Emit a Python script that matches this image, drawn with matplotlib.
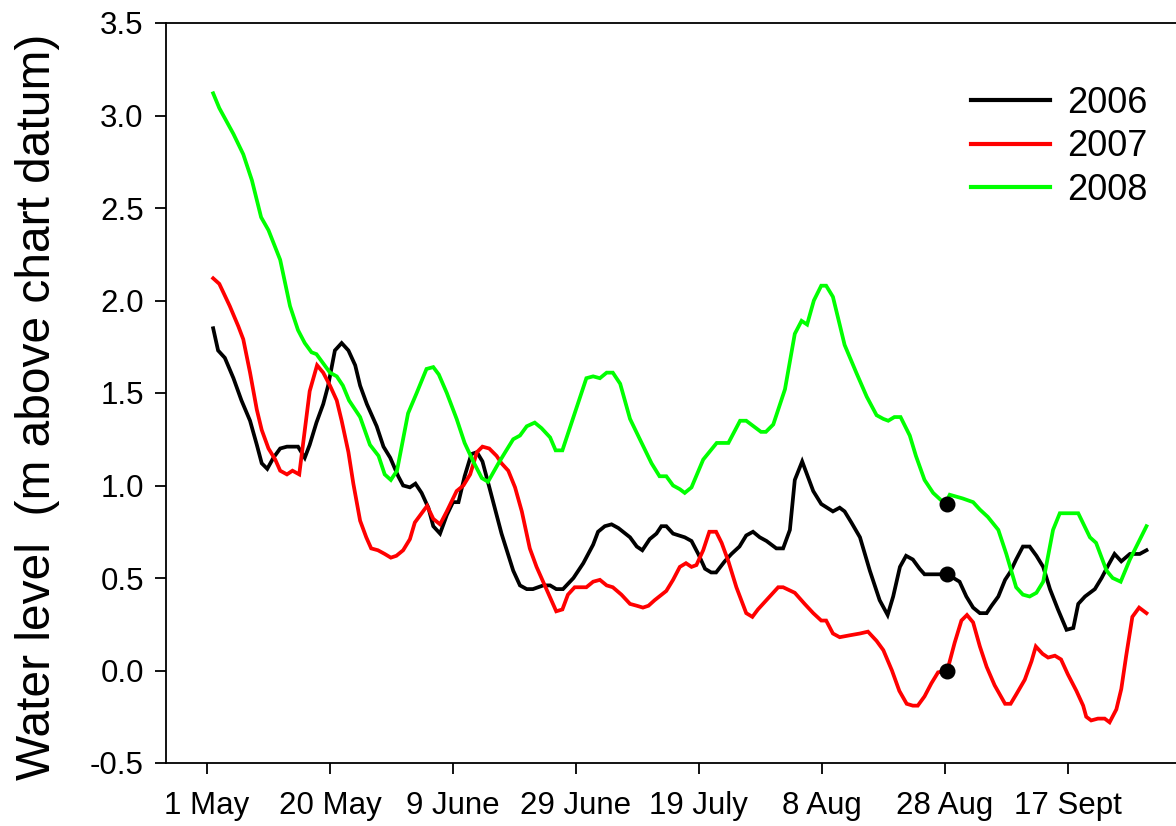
import matplotlib
matplotlib.use("Agg")
import matplotlib.pyplot as plt

# ---------------- data (day 0 = 1 May) ----------------
days_2006 = [1.0, 1.8, 2.9, 4.3, 5.6, 7.0, 8.1, 8.9, 9.8, 10.8, 11.9, 13.0, 14.8, 15.9, 16.7,
             17.8, 18.9, 19.7, 20.8, 21.9, 23.0, 24.1, 24.9, 26.0, 27.6, 28.7, 29.8, 31.1,
             31.9, 33.0, 33.9, 34.9, 36.0, 36.8, 37.9, 39.0, 40.0, 40.9, 41.9, 43.0, 43.9,
             44.8, 46.0, 47.9, 49.8, 50.9, 52.0, 53.0, 54.7, 55.8, 56.8, 57.9, 59.6, 61.2,
             62.8, 63.6, 64.7, 65.8, 66.9, 68.8, 69.9, 70.8, 72.0, 73.1, 73.9, 74.7, 75.8,
             77.7, 78.8, 79.9, 81.0, 82.0, 82.8, 84.2, 85.3, 86.6, 87.7, 88.8, 89.9, 91.0,
             92.6, 93.7, 94.8, 95.6, 96.8, 97.7, 98.6, 99.9, 101.8, 102.9, 103.7, 104.8,
             106.2, 107.8, 109.4, 110.7, 111.6, 112.7, 113.7, 114.8, 115.9, 116.7, 118.6,
             120.4, 122.4, 123.5, 124.6, 125.7, 126.8, 127.6, 128.7, 129.8, 130.6, 131.6,
             132.7, 133.8, 134.9, 136.0, 137.1, 138.4, 139.8, 140.9, 141.7, 142.8, 144.4,
             145.5, 146.6, 147.6, 148.7, 150.1, 151.7, 152.8]
level_2006 = [1.85, 1.73, 1.69, 1.58, 1.46, 1.35, 1.22, 1.12, 1.09, 1.15, 1.20, 1.21, 1.21, 1.15,
              1.22, 1.34, 1.44, 1.54, 1.73, 1.77, 1.73, 1.65, 1.54, 1.44, 1.32, 1.21, 1.15,
              1.05, 1.00, 0.99, 1.01, 0.96, 0.88, 0.78, 0.74, 0.84, 0.91, 0.91, 1.05, 1.17,
              1.18, 1.13, 0.98, 0.74, 0.54, 0.46, 0.44, 0.44, 0.46, 0.46, 0.44, 0.44, 0.50,
              0.58, 0.68, 0.75, 0.78, 0.79, 0.77, 0.72, 0.67, 0.65, 0.71, 0.74, 0.78, 0.78,
              0.74, 0.72, 0.70, 0.63, 0.55, 0.53, 0.53, 0.59, 0.63, 0.67, 0.73, 0.75, 0.72,
              0.70, 0.66, 0.66, 0.76, 1.03, 1.13, 1.05, 0.97, 0.90, 0.86, 0.88, 0.86, 0.80,
              0.72, 0.54, 0.38, 0.30, 0.40, 0.56, 0.62, 0.60, 0.55, 0.52, 0.52, 0.52, 0.48,
              0.40, 0.34, 0.31, 0.31, 0.35, 0.40, 0.49, 0.53, 0.60, 0.67, 0.67, 0.62, 0.56,
              0.44, 0.33, 0.22, 0.23, 0.36, 0.40, 0.44, 0.50, 0.57, 0.63, 0.59, 0.63, 0.63,
              0.65]

days_2007 = [1.0, 2.0, 3.7, 5.1, 5.9, 7.0, 8.1, 8.9, 10.0, 11.1, 11.9, 13.0, 13.9, 15.0, 15.9,
             16.7, 17.9, 18.9, 20.0, 21.1, 21.9, 23.0, 23.8, 24.9, 25.9, 26.7, 27.8, 28.9,
             29.9, 30.8, 31.9, 33.0, 33.8, 34.9, 35.8, 36.8, 37.9, 39.0, 40.6, 41.7, 42.8,
             43.9, 44.8, 45.9, 47.1, 47.9, 49.0, 50.1, 51.2, 52.5, 53.6, 55.2, 56.8, 57.8,
             58.7, 59.8, 61.7, 62.8, 63.9, 65.0, 66.0, 67.4, 68.8, 69.9, 70.9, 71.8, 72.8,
             74.7, 75.8, 76.9, 77.9, 78.8, 79.6, 80.7, 81.7, 82.8, 83.7, 84.8, 86.1, 87.7,
             88.7, 89.6, 90.7, 91.8, 92.9, 93.7, 95.6, 97.2, 98.6, 99.9, 100.7, 101.8, 102.9,
             104.5, 106.2, 107.5, 108.9, 110.0, 111.4, 112.6, 113.8, 114.8, 115.6, 116.7,
             117.8, 118.9, 120.4, 121.6, 122.7, 123.6, 124.6, 125.7, 126.8, 128.1, 129.8,
             130.7, 131.6, 133.0, 134.1, 134.8, 135.9, 136.8, 137.9, 138.9, 140.0, 141.4,
             142.5, 143.0, 143.8, 144.9, 146.0, 146.8, 147.9, 148.7, 149.5, 150.5, 151.6,
             152.8]
level_2007 = [2.12, 2.09, 1.97, 1.86, 1.79, 1.61, 1.41, 1.30, 1.20, 1.14, 1.08, 1.06, 1.08, 1.06,
              1.30, 1.51, 1.65, 1.61, 1.54, 1.46, 1.35, 1.18, 1.01, 0.81, 0.72, 0.66, 0.65,
              0.63, 0.61, 0.62, 0.65, 0.71, 0.80, 0.85, 0.89, 0.82, 0.79, 0.86, 0.97, 1.00,
              1.06, 1.18, 1.21, 1.20, 1.16, 1.12, 1.08, 0.99, 0.86, 0.66, 0.56, 0.44, 0.32,
              0.33, 0.41, 0.45, 0.45, 0.48, 0.49, 0.46, 0.45, 0.41, 0.36, 0.35, 0.34, 0.35,
              0.38, 0.43, 0.49, 0.56, 0.58, 0.56, 0.57, 0.65, 0.75, 0.75, 0.69, 0.59, 0.45,
              0.31, 0.29, 0.33, 0.37, 0.41, 0.45, 0.45, 0.42, 0.36, 0.31, 0.27, 0.27, 0.20,
              0.18, 0.19, 0.20, 0.21, 0.16, 0.11, 0.00, -0.11, -0.18, -0.19, -0.19, -0.14,
              -0.07, -0.01, 0.00, 0.15, 0.27, 0.30, 0.26, 0.13, 0.02, -0.08, -0.18, -0.18,
              -0.13, -0.05, 0.05, 0.13, 0.09, 0.07, 0.08, 0.06, -0.02, -0.11, -0.19, -0.25,
              -0.27, -0.26, -0.26, -0.28, -0.21, -0.10, 0.08, 0.29, 0.34, 0.31]

days_2008 = [1.0, 2.0, 4.3, 5.9, 7.3, 8.8, 10.0, 11.9, 13.5, 14.8, 15.9, 17.0, 17.8, 18.9, 20.0,
             21.1, 22.1, 23.1, 24.9, 26.5, 27.9, 28.9, 29.9, 30.9, 32.7, 34.1, 35.7, 36.8,
             37.7, 39.0, 40.6, 41.9, 43.3, 44.7, 45.7, 47.4, 48.5, 49.8, 50.9, 52.0, 53.3,
             54.4, 55.8, 56.7, 57.8, 59.6, 61.7, 62.8, 63.9, 65.0, 66.0, 67.2, 68.8, 70.4,
             72.3, 73.6, 74.7, 75.8, 76.9, 77.7, 78.8, 80.7, 82.9, 84.8, 86.7, 87.7, 90.1,
             90.9, 92.1, 94.0, 95.6, 96.7, 97.6, 98.7, 99.9, 100.7, 101.8, 102.9, 103.7,
             105.6, 107.3, 108.9, 110.0, 110.8, 111.8, 112.8, 114.3, 115.3, 116.7, 118.1,
             119.4, 120.2, 120.8, 122.9, 124.6, 125.7, 127.0, 128.7, 130.0, 131.6, 132.7,
             133.8, 134.9, 136.0, 137.6, 138.7, 141.7, 143.6, 144.6, 146.3, 147.3, 148.6,
             150.1, 152.8]
level_2008 = [3.12, 3.04, 2.90, 2.79, 2.65, 2.45, 2.38, 2.22, 1.97, 1.84, 1.77, 1.72, 1.71, 1.66,
              1.61, 1.59, 1.54, 1.46, 1.37, 1.22, 1.16, 1.06, 1.03, 1.08, 1.39, 1.50, 1.63,
              1.64, 1.60, 1.50, 1.36, 1.23, 1.13, 1.04, 1.02, 1.12, 1.18, 1.25, 1.27, 1.32,
              1.34, 1.31, 1.26, 1.19, 1.19, 1.37, 1.58, 1.59, 1.58, 1.61, 1.61, 1.55, 1.36,
              1.25, 1.12, 1.05, 1.05, 1.00, 0.98, 0.96, 0.99, 1.14, 1.23, 1.23, 1.35, 1.35,
              1.29, 1.29, 1.33, 1.52, 1.82, 1.89, 1.87, 2.00, 2.08, 2.08, 2.02, 1.87, 1.76,
              1.61, 1.48, 1.38, 1.36, 1.35, 1.37, 1.37, 1.27, 1.16, 1.03, 0.96, 0.92, 0.91,
              0.95, 0.93, 0.91, 0.87, 0.83, 0.76, 0.63, 0.45, 0.41, 0.40, 0.42, 0.48, 0.76,
              0.85, 0.85, 0.72, 0.69, 0.54, 0.50, 0.48, 0.60, 0.78]

marker_day = [120.4, 120.4, 120.4]
marker_level = [0.90, 0.52, 0.00]

series_labels = ["2006", "2007", "2008"]
series_colors = ["#000000", "#ff0000", "#00ff00"]

tick_days = [0, 20, 40, 60, 80, 100, 120, 140]
tick_labels = ["1 May", "20 May", "9 June", "29 June", "19 July", "8 Aug", "28 Aug", "17 Sept"]
ytick_vals = [-0.5, 0.0, 0.5, 1.0, 1.5, 2.0, 2.5, 3.0, 3.5]

# ---------------- figure ----------------
plt.rcParams['font.family'] = ['Liberation Sans', 'DejaVu Sans']

W, H = 1176, 826
fig = plt.figure(figsize=(W / 100, H / 100), dpi=100)
ax = fig.add_axes([166 / W, (H - 763) / H, (W - 166) / W, (763 - 23) / H])

for d, v, lab, col in zip([days_2006, days_2007, days_2008],
                          [level_2006, level_2007, level_2008],
                          series_labels, series_colors):
    ax.plot(d, v, color=col, lw=2.7, label=lab, solid_joinstyle='miter', zorder=2)

ax.plot(marker_day, marker_level, linestyle='none', marker='o', color='black',
        markersize=10.5, zorder=3)

ax.set_xlim(-6.67, 157.6)
ax.set_ylim(-0.5, 3.5)
ax.set_xticks(tick_days)
ax.set_xticklabels(tick_labels)
ax.set_yticks(ytick_vals)
ax.set_yticklabels([f"{v:.1f}" for v in ytick_vals])

for s in ['left', 'bottom', 'top']:
    ax.spines[s].set_linewidth(1.3)
ax.spines['right'].set_visible(False)
ax.tick_params(axis='both', direction='out', length=8, width=1.3, labelsize=22.5)
ax.tick_params(axis='y', pad=8)
ax.tick_params(axis='x', pad=12)

ax.set_ylabel("Water level  (m above chart datum)", fontsize=34.5)
ax.yaxis.set_label_coords(-0.105, 0.481)

leg = ax.legend(loc='upper left', bbox_to_anchor=(971 / W, 1 - 86 / H),
                bbox_transform=fig.transFigure, frameon=False, fontsize=26,
                borderpad=0, borderaxespad=0, handlelength=2.2, handletextpad=0.45,
                labelspacing=0.23)
for ln in leg.get_lines():
    ln.set_linewidth(3.0)

fig.savefig("out.png", dpi=100)
